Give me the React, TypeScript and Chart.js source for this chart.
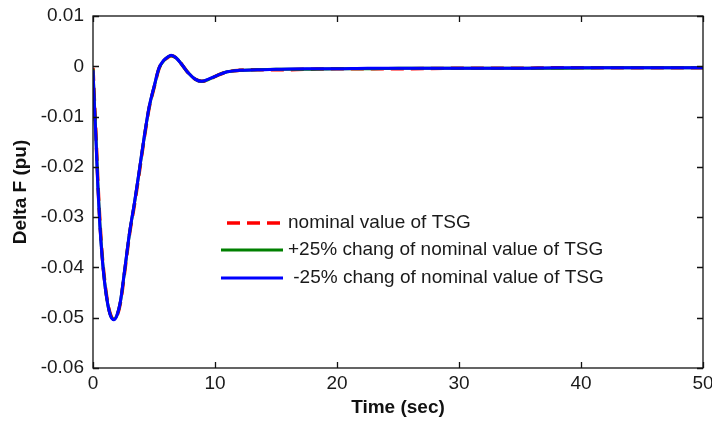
import React, { useEffect, useRef } from 'react';
import { Chart, registerables } from 'chart.js';

Chart.register(...registerables);

// Time axis (sec)
const time = [0, 0.1, 0.25, 0.4, 0.57, 0.75, 0.95, 1.2, 1.45, 1.7, 1.95, 2.25, 2.6, 3.0, 3.4, 3.8, 4.2, 4.6, 5.0, 5.4, 5.8, 6.1, 6.4, 6.8, 7.3, 7.8, 8.4, 8.9, 9.5, 10.2, 11, 12, 13.5, 15, 17.5, 20, 22.5, 25, 30, 35, 38, 42, 46, 50];

// Delta F (pu) for each case
const nominalTSG = [-0.0003, -0.006, -0.014, -0.023, -0.031, -0.0375, -0.0425, -0.047, -0.0495, -0.0503, -0.0497, -0.047, -0.0408, -0.0333, -0.0275, -0.021, -0.0143, -0.0083, -0.0043, -0.0005, 0.0011, 0.0017, 0.0021, 0.0017, 0.0003, -0.0013, -0.0026, -0.003, -0.0026, -0.0018, -0.0011, -0.0008, -0.0007, -0.0007, -0.0006, -0.0005, -0.0005, -0.0005, -0.0004, -0.0004, -0.0003, -0.0003, -0.0003, -0.0003];
const plus25TSG = [-0.0005, -0.0065, -0.0145, -0.0235, -0.0315, -0.0378, -0.0428, -0.0472, -0.0496, -0.0503, -0.0496, -0.0468, -0.0405, -0.0331, -0.0272, -0.0207, -0.0141, -0.0082, -0.0042, -0.0005, 0.0011, 0.0018, 0.0021, 0.0017, 0.0003, -0.0013, -0.0026, -0.003, -0.0026, -0.0018, -0.0011, -0.0008, -0.0007, -0.0006, -0.0006, -0.0005, -0.0005, -0.0004, -0.0004, -0.0004, -0.0004, -0.0003, -0.0003, -0.0003];
const minus25TSG = [-0.0008, -0.007, -0.015, -0.024, -0.032, -0.038, -0.043, -0.0472, -0.0497, -0.0504, -0.0496, -0.0467, -0.0404, -0.033, -0.0271, -0.0206, -0.014, -0.0081, -0.0041, -0.0004, 0.0012, 0.0018, 0.0022, 0.0017, 0.0003, -0.0013, -0.0026, -0.003, -0.0025, -0.0018, -0.0011, -0.0008, -0.0007, -0.0006, -0.0005, -0.0005, -0.0004, -0.0004, -0.0004, -0.0004, -0.0003, -0.0003, -0.0003, -0.0003];

const seriesLabels = ['nominal value of TSG', '+25% chang of nominal value of TSG', ' -25% chang of nominal value of TSG'];

const xTicks = [0, 10, 20, 30, 40, 50];
const yTicks = [-0.06, -0.05, -0.04, -0.03, -0.02, -0.01, 0, 0.01];

const FONT = "'Liberation Sans', Arial, Helvetica, sans-serif";

const framePlugin = {
  id: 'matlabFrame',
  afterDatasetsDraw(chart: any) {
    const { ctx, chartArea, scales } = chart;
    const { left, right, top, bottom } = chartArea;
    ctx.save();
    ctx.strokeStyle = '#111';
    ctx.lineWidth = 1.3;
    ctx.strokeRect(left, top, right - left, bottom - top);
    const tl = 6;
    ctx.beginPath();
    xTicks.forEach((v) => {
      const px = Math.round(scales.x.getPixelForValue(v)) + 0.5;
      ctx.moveTo(px, bottom);
      ctx.lineTo(px, bottom - tl);
      ctx.moveTo(px, top);
      ctx.lineTo(px, top + tl);
    });
    yTicks.forEach((v) => {
      const py = Math.round(scales.y.getPixelForValue(v)) + 0.5;
      ctx.moveTo(left, py);
      ctx.lineTo(left + tl, py);
      ctx.moveTo(right, py);
      ctx.lineTo(right - tl, py);
    });
    ctx.stroke();
    ctx.restore();
  },
};

const legendPlugin = {
  id: 'insideLegend',
  afterDraw(chart: any) {
    const { ctx, chartArea } = chart;
    const x0 = chartArea.left + 128;
    const x1 = chartArea.left + 190;
    const textX = chartArea.left + 195;
    const rowY = [chartArea.top + 207, chartArea.top + 234, chartArea.top + 262];
    ctx.save();
    chart.data.datasets.forEach((ds: any, i: number) => {
      const y = rowY[i];
      ctx.strokeStyle = ds.borderColor;
      ctx.lineWidth = ds.borderWidth;
      ctx.setLineDash(ds.borderDash || []);
      ctx.beginPath();
      ctx.moveTo(ds.borderDash ? x0 + 6 : x0, y);
      ctx.lineTo(x1, y);
      ctx.stroke();
      ctx.setLineDash([]);
      ctx.fillStyle = '#1a1a1a';
      ctx.font = `19px ${FONT}`;
      ctx.textBaseline = 'middle';
      ctx.textAlign = 'left';
      ctx.fillText(ds.label, textX, y);
    });
    ctx.restore();
  },
};

function toPoints(values: number[]) {
  return time.map((t, i) => ({ x: t, y: values[i] }));
}

export default function App() {
  const canvasRef = useRef<HTMLCanvasElement | null>(null);

  useEffect(() => {
    if (!canvasRef.current) return;
    const chart = new Chart(canvasRef.current, {
      type: 'line',
      data: {
        datasets: [
          {
            label: seriesLabels[0],
            data: toPoints(nominalTSG),
            borderColor: '#ff0000',
            borderWidth: 3.5,
            borderDash: [13, 7],
            pointRadius: 0,
            cubicInterpolationMode: 'monotone',
            order: 3,
          },
          {
            label: seriesLabels[1],
            data: toPoints(plus25TSG),
            borderColor: '#008000',
            borderWidth: 3,
            pointRadius: 0,
            cubicInterpolationMode: 'monotone',
            order: 2,
          },
          {
            label: seriesLabels[2],
            data: toPoints(minus25TSG),
            borderColor: '#0000ff',
            borderWidth: 3,
            pointRadius: 0,
            cubicInterpolationMode: 'monotone',
            order: 1,
          },
        ],
      } as any,
      options: {
        animation: false,
        responsive: true,
        maintainAspectRatio: false,
        layout: { padding: { top: 16, right: 9, left: 0, bottom: 0 } },
        plugins: {
          legend: { display: false },
          tooltip: { enabled: false },
        },
        scales: {
          x: {
            type: 'linear',
            min: 0,
            max: 50,
            afterBuildTicks: (scale: any) => {
              scale.ticks = xTicks.map((v) => ({ value: v }));
            },
            afterFit: (scale: any) => {
              scale.height = 58;
              scale.paddingLeft = 0;
              scale.paddingRight = 0;
            },
            grid: { display: false, drawTicks: false },
            border: { display: false },
            ticks: {
              padding: 4,
              color: '#1a1a1a',
              font: { family: FONT, size: 19 },
              maxRotation: 0,
              callback: (v: any) => String(v),
            },
            title: {
              display: true,
              text: 'Time (sec)',
              color: '#111',
              font: { family: FONT, size: 19, weight: 'bold' },
              padding: { top: 0, bottom: 7 },
            },
          },
          y: {
            type: 'linear',
            min: -0.06,
            max: 0.01,
            afterBuildTicks: (scale: any) => {
              scale.ticks = yTicks.map((v) => ({ value: v }));
            },
            afterFit: (scale: any) => {
              scale.width = 93;
              scale.paddingTop = 0;
              scale.paddingBottom = 0;
            },
            grid: { display: false, drawTicks: false },
            border: { display: false },
            ticks: {
              padding: 9,
              color: '#1a1a1a',
              font: { family: FONT, size: 19 },
              callback: (v: any) => {
                const r = Math.round(Number(v) * 100) / 100;
                return Math.abs(r) < 1e-9 ? '0' : String(r);
              },
            },
            title: {
              display: true,
              text: 'Delta F (pu)',
              color: '#111',
              font: { family: FONT, size: 19, weight: 'bold' },
              padding: { top: 9, bottom: 0 },
            },
          },
        },
      } as any,
      plugins: [framePlugin, legendPlugin],
    });
    return () => chart.destroy();
  }, []);

  return (
    <div style={{ position: 'absolute', left: 0, top: 0, width: 712, height: 426, background: '#fff' }}>
      <canvas ref={canvasRef} />
    </div>
  );
}
